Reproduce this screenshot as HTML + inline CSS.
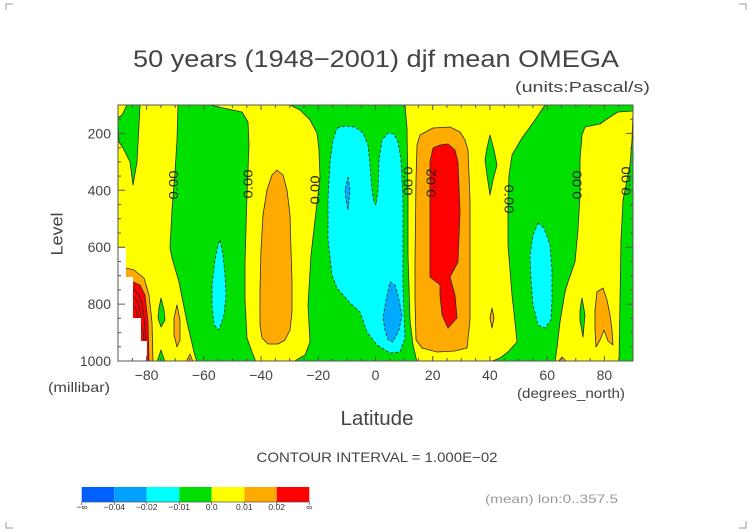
<!DOCTYPE html>
<html>
<head>
<meta charset="utf-8">
<style>
html,body{margin:0;padding:0;background:#fff;}
body{width:752px;height:532px;overflow:hidden;position:relative;}
svg{position:absolute;left:0;top:0;}
text{font-family:"Liberation Sans",sans-serif;}
</style>
</head>
<body>
<svg width="752" height="532" viewBox="0 0 752 532" xmlns="http://www.w3.org/2000/svg">
<defs>
<clipPath id="pc"><rect x="118" y="105" width="515" height="256"/></clipPath>
</defs>

<!-- corner marks -->
<g stroke="#999" stroke-width="1" fill="none">
<path d="M6,10 V4 H13"/>
<path d="M739,4 H746 V10"/>
<path d="M6,522 V528 H13"/>
<path d="M739,528 H746 V521"/>
</g>

<!-- title -->
<text x="133" y="67" font-size="24" fill="#444" textLength="486" lengthAdjust="spacingAndGlyphs">50 years (1948−2001) djf mean OMEGA</text>
<text x="515" y="92" font-size="15" fill="#444" textLength="135" lengthAdjust="spacingAndGlyphs">(units:Pascal/s)</text>

<!-- plot -->
<g clip-path="url(#pc)" stroke="#2a2a2a" stroke-width="0.8" stroke-linejoin="round">
<rect x="118" y="105" width="515" height="256" fill="#ffff00" stroke="none"/>

<!-- greens -->
<g fill="#00e000">
<path d="M127,105 L140,105 L139,125 L137,162 L133,185 L130,162 L123,148 L119,142 L118,125 L118,118 L122,115 Z"/>
<path d="M178,105 L210,105 L223,108 L242,112 L248,122 L249,145 L247,195 L245,262 L245,300 L247,338 L252,352 L256,362 L197,362 L194,352 L187,322 L179,282 L172,258 L170,248 L172,210 L175,172 L177,140 Z"/>
<path d="M290,105 L405,105 L407,128 L408,195 L408,255 L410,320 L413,345 L417,362 L293,362 L305,355 L310,342 L308,305 L311,255 L315,220 L320,178 L319,150 L317,133 L310,120 L300,110 Z"/>
<path d="M545,105 L633,105 L633,362 L490,362 L500,358 L508,352 L517,342 L515,322 L512,295 L508,245 L508,200 L509,175 L512,155 L522,138 L535,120 Z"/>
<path d="M161,298 L164,310 L165,320 L161,327 L158,318 L159,308 Z"/>
<path d="M157,362 L161,350 L165,362 Z"/>
<path d="M490,135 L494,150 L497,165 L493,180 L490,195 L487,175 L485,160 L487,148 Z"/>
</g>

<!-- right yellow band -->
<path fill="#ffff00" d="M555,362 L557,348 L560,322 L565,292 L568,282 L575,262 L578,230 L580,195 L580,160 L582,135 L585,127 L600,124 L610,117 L618,112 L633,111 L633,111 L632,140 L630,165 L626,185 L623,200 L621,240 L620,300 L619,362 Z"/>
<path fill="#00e000" d="M582,298 L585,315 L583,337 L580,320 L580,310 Z"/>

<!-- cyans -->
<g fill="#00ffff" stroke-dasharray="3,2">
<path d="M220,240 L223,255 L225,275 L226,295 L224,315 L219,330 L214,325 L212,305 L212,285 L215,260 L218,245 Z"/>
<path d="M337,128 L345,126 L355,127 L363,133 L368,145 L370,165 L372,190 L374,203 L376,205 L378,190 L379,160 L382,140 L388,133 L394,134 L398,142 L401,160 L403,200 L403,260 L403,288 L405,338 L400,352 L390,353 L377,345 L367,332 L360,312 L350,303 L337,288 L332,275 L328,240 L328,200 L330,162 L333,140 Z"/>
<path d="M538,223 L544,228 L550,245 L552,270 L552,300 L551,320 L545,328 L538,325 L533,305 L531,280 L530,255 L533,235 Z"/>
</g>
<!-- blues -->
<g fill="#00aaff" stroke-dasharray="3,2">
<path d="M348,177 L350,190 L349,200 L348,210 L346,200 L345,190 Z"/>
<path d="M390,282 L395,285 L398,295 L402,315 L399,330 L393,342 L388,340 L385,330 L383,318 L386,300 Z"/>
</g>

<!-- oranges -->
<g fill="#ffaa00">
<path d="M277,170 L283,175 L287,190 L290,215 L291,250 L292,280 L292,312 L290,330 L285,340 L278,344 L268,344 L262,338 L260,325 L260,290 L261,250 L263,215 L267,190 L272,175 Z"/>
<path d="M420,135 L433,128 L450,127 L460,132 L465,140 L468,150 L470,200 L470,262 L470,320 L467,348 L455,351 L437,352 L422,348 L416,340 L415,300 L415,262 L416,180 L417,145 Z"/>
<path d="M492,308 L494,318 L492,328 L490,318 Z"/>
<path d="M597,292 L603,288 L607,300 L610,315 L612,330 L613,345 L608,341 L604,330 L600,340 L596,347 L595,330 L595,310 Z"/>
<path d="M558,362 L562,357 L567,362 Z"/>
<path d="M177,305 L180,320 L180,340 L177,347 L174,335 L174,318 Z"/>
<path d="M186,362 L190,354 L193,362 Z"/>
<path d="M118,268 L126,268 L134,270 L144,278 L149,295 L152,322 L153,362 L118,362 Z"/>
</g>

<!-- reds -->
<g fill="#ff0000">
<path d="M433,148 L440,145 L448,144 L455,150 L458,162 L460,212 L458,262 L450,277 L455,295 L457,318 L448,328 L442,315 L440,295 L440,285 L430,277 L430,200 L430,162 Z"/>
<path d="M118,282 L133,282 L140,285 L145,295 L148,322 L149,362 L118,362 Z"/>
</g>
<g fill="none">
<path d="M133,289 C140,293 144,305 146,341"/>
<path d="M133,296 C138,300 140,308 141,318"/>
<path d="M133,305 C136,308 137,313 138,318"/>
<path d="M141,326 C143,330 144,336 144,341"/>
</g>

<!-- white missing -->
<path fill="#ffffff" stroke="none" d="M118,248 L126,248 L126,277 L133,277 L133,318 L141,318 L141,341 L147,341 L147,362 L118,362 Z"/>
</g>

<!-- contour labels -->
<g font-size="13" fill="#222">
<text x="173.5" y="185" dominant-baseline="central" text-anchor="middle" transform="rotate(-90 173.5 185)" textLength="29" lengthAdjust="spacingAndGlyphs">0.00</text>
<text x="248" y="184" dominant-baseline="central" text-anchor="middle" transform="rotate(-90 248 184)" textLength="29" lengthAdjust="spacingAndGlyphs">0.00</text>
<text x="315" y="190" dominant-baseline="central" text-anchor="middle" transform="rotate(-90 315 190)" textLength="29" lengthAdjust="spacingAndGlyphs">0.00</text>
<text x="408" y="181" dominant-baseline="central" text-anchor="middle" transform="rotate(90 408 181)" textLength="29" lengthAdjust="spacingAndGlyphs">0.00</text>
<text x="431" y="183" dominant-baseline="central" text-anchor="middle" transform="rotate(-90 431 183)" textLength="29" lengthAdjust="spacingAndGlyphs">0.02</text>
<text x="509" y="199" dominant-baseline="central" text-anchor="middle" transform="rotate(90 509 199)" textLength="29" lengthAdjust="spacingAndGlyphs">0.00</text>
<text x="577" y="185" dominant-baseline="central" text-anchor="middle" transform="rotate(-90 577 185)" textLength="29" lengthAdjust="spacingAndGlyphs">0.00</text>
<text x="626" y="181" dominant-baseline="central" text-anchor="middle" transform="rotate(-90 626 181)" textLength="29" lengthAdjust="spacingAndGlyphs">0.00</text>
</g>

<!-- frame -->
<rect x="118" y="105" width="515" height="256" fill="none" stroke="#555" stroke-width="1"/>
<g stroke="#555" stroke-width="1" fill="none">
<path d="M118,119.2h3 M118,133.4h7 M118,147.7h3 M118,161.9h3 M118,176.1h3 M118,190.3h7 M118,204.6h3 M118,218.8h3 M118,233h3 M118,247.2h7 M118,261.4h3 M118,275.7h3 M118,289.9h3 M118,304.1h7 M118,318.3h3 M118,332.6h3 M118,346.8h3"/>
<path d="M633,119.2h-3 M633,133.4h-7 M633,147.7h-3 M633,161.9h-3 M633,176.1h-3 M633,190.3h-7 M633,204.6h-3 M633,218.8h-3 M633,233h-3 M633,247.2h-7 M633,261.4h-3 M633,275.7h-3 M633,289.9h-3 M633,304.1h-7 M633,318.3h-3 M633,332.6h-3 M633,346.8h-3"/>
<path d="M132.3,361v-3 M146.6,361v-5 M160.9,361v-3 M175.2,361v-3 M189.5,361v-3 M203.8,361v-5 M218.1,361v-3 M232.4,361v-3 M246.75,361v-3 M261.1,361v-5 M275.4,361v-3 M289.7,361v-3 M304,361v-3 M318.3,361v-5 M332.6,361v-3 M346.9,361v-3 M361.2,361v-3 M375.5,361v-5 M389.8,361v-3 M404.1,361v-3 M418.4,361v-3 M432.7,361v-5 M447,361v-3 M461.3,361v-3 M475.6,361v-3 M489.9,361v-5 M504.25,361v-3 M518.6,361v-3 M532.9,361v-3 M547.2,361v-5 M561.5,361v-3 M575.8,361v-3 M590.1,361v-3 M604.4,361v-5 M618.7,361v-3"/>
<path d="M132.3,105v3 M146.6,105v5 M160.9,105v3 M175.2,105v3 M189.5,105v3 M203.8,105v5 M218.1,105v3 M232.4,105v3 M246.75,105v3 M261.1,105v5 M275.4,105v3 M289.7,105v3 M304,105v3 M318.3,105v5 M332.6,105v3 M346.9,105v3 M361.2,105v3 M375.5,105v5 M389.8,105v3 M404.1,105v3 M418.4,105v3 M432.7,105v5 M447,105v3 M461.3,105v3 M475.6,105v3 M489.9,105v5 M504.25,105v3 M518.6,105v3 M532.9,105v3 M547.2,105v5 M561.5,105v3 M575.8,105v3 M590.1,105v3 M604.4,105v5 M618.7,105v3"/>
</g>

<!-- y labels -->
<g font-size="14" fill="#444" text-anchor="end">
<text x="111" y="138.4">200</text>
<text x="111" y="195.3">400</text>
<text x="111" y="252.2">600</text>
<text x="111" y="309.1">800</text>
<text x="111" y="366">1000</text>
</g>
<text x="110" y="392" font-size="14" fill="#444" text-anchor="end" textLength="62" lengthAdjust="spacingAndGlyphs">(millibar)</text>
<text x="57" y="234" font-size="17" fill="#444" text-anchor="middle" dominant-baseline="central" transform="rotate(-90 57 234)" textLength="43" lengthAdjust="spacingAndGlyphs">Level</text>

<!-- x labels -->
<g font-size="14" fill="#444" text-anchor="middle">
<text x="146.6" y="380">−80</text>
<text x="203.8" y="380">−60</text>
<text x="261.1" y="380">−40</text>
<text x="318.3" y="380">−20</text>
<text x="375.5" y="380">0</text>
<text x="432.7" y="380">20</text>
<text x="489.9" y="380">40</text>
<text x="547.2" y="380">60</text>
<text x="604.4" y="380">80</text>
</g>
<text x="625" y="398" font-size="14" fill="#444" text-anchor="end" textLength="108" lengthAdjust="spacingAndGlyphs">(degrees_north)</text>
<text x="377" y="425" font-size="20" fill="#444" text-anchor="middle" textLength="73" lengthAdjust="spacingAndGlyphs">Latitude</text>
<text x="377" y="462" font-size="14" fill="#444" text-anchor="middle" textLength="241" lengthAdjust="spacingAndGlyphs">CONTOUR INTERVAL = 1.000E−02</text>

<!-- colorbar -->
<g stroke="none">
<rect x="81.7" y="487" width="32.6" height="15" fill="#0060ff"/>
<rect x="114.3" y="487" width="32.4" height="15" fill="#00a0ff"/>
<rect x="146.7" y="487" width="32.6" height="15" fill="#00ffff"/>
<rect x="179.3" y="487" width="32.4" height="15" fill="#00e000"/>
<rect x="211.7" y="487" width="32.6" height="15" fill="#ffff00"/>
<rect x="244.3" y="487" width="32.4" height="15" fill="#ffaa00"/>
<rect x="276.7" y="487" width="32.6" height="15" fill="#ff0000"/>
</g>
<g stroke="#555" stroke-width="0.8">
<path d="M81.7,502 H309.3 M81.7,502v3 M114.3,502v3 M146.7,502v3 M179.3,502v3 M211.7,502v3 M244.3,502v3 M276.7,502v3 M309.3,502v3"/>
</g>
<g font-size="8.5" fill="#333" text-anchor="middle">
<text x="82" y="510">−∞</text>
<text x="114.3" y="510">−0.04</text>
<text x="146.7" y="510">−0.02</text>
<text x="179.3" y="510">−0.01</text>
<text x="211.7" y="510">0.0</text>
<text x="244.3" y="510">0.01</text>
<text x="276.7" y="510">0.02</text>
<text x="309.3" y="510">∞</text>
</g>

<text x="485" y="503" font-size="12" fill="#999" textLength="133" lengthAdjust="spacingAndGlyphs">(mean) lon:0..357.5</text>
</svg>
</body>
</html>
